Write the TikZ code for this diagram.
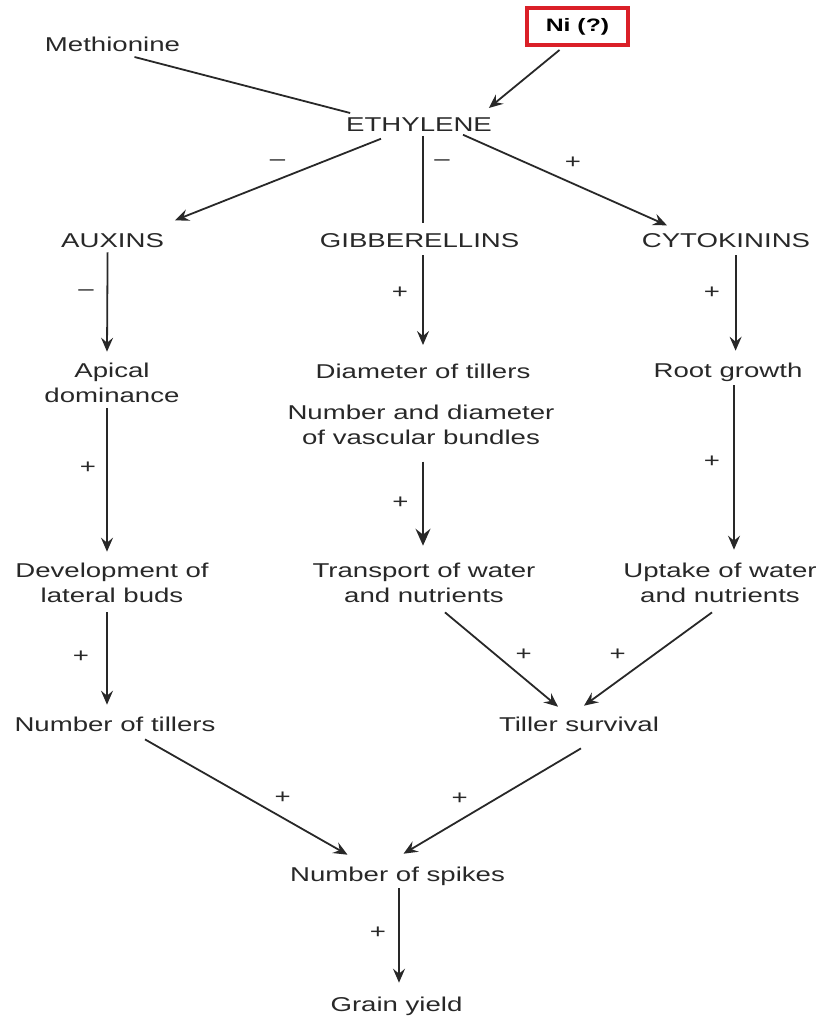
\documentclass[tikz,border=0pt]{standalone}
\usepackage{fontspec}
\setmainfont{Liberation Sans}[FakeStretch=1.38]
\usetikzlibrary{arrows.meta, calc}
\definecolor{inkgray}{RGB}{40, 40, 40}
\definecolor{boxred}{RGB}{218, 32, 40}

\begin{document}
\begin{tikzpicture}[x=0.5pt, y=-0.5pt,
  txt/.style={font=\fontsize{10}{12.5}\selectfont, text=inkgray, inner sep=0pt, outer sep=0pt, anchor=north, align=center},
  signlbl/.style={font=\fontsize{10}{12.5}\selectfont, text=inkgray, inner sep=0pt},
  link/.style={draw=inkgray, line width=0.9pt},
  arr/.style={link, -{Stealth[length=7pt, width=6pt, inset=2.5pt]}},
  bigarr/.style={link, -{Stealth[length=8.5pt, width=7.5pt, inset=3pt]}}]
  \useasboundingbox (0,0) rectangle (821,1018);

  % Top
  \node[txt] (meth) at (112.5,37.3) {Methionine};
  \node[draw=boxred, line width=2pt, minimum width=50.5pt, minimum height=18.5pt, inner sep=0pt,
        font=\fontsize{9}{11}\selectfont\bfseries] (ni) at (577.5,26.5) {Ni (?)};
  \node[txt] (eth) at (419,118) {ETHYLENE};

  % Hormones
  \node[txt] (auxins) at (112.6,233.3) {AUXINS};
  \node[txt] (gibb) at (419.6,233.3) {GIBBERELLINS};
  \node[txt] (cyto) at (726,233.3) {CYTOKININS};

  % Middle rows
  \node[txt] (apical) at (112,362.7) {Apical\\dominance};
  \node[txt] (diam) at (423,364) {Diameter of tillers};
  \node[txt] (vasc) at (421,405) {Number and diameter\\of vascular bundles};
  \node[txt] (root) at (728,362.7) {Root growth};
  \node[txt] (dev) at (112,562.7) {Development of\\lateral buds};
  \node[txt] (trans) at (424,562.7) {Transport of water\\and nutrients};
  \node[txt] (uptake) at (720,562.7) {Uptake of water\\and nutrients};

  % Bottom
  \node[txt] (tillers) at (115,716.7) {Number of tillers};
  \node[txt] (tiller) at (579,716.7) {Tiller survival};
  \node[txt] (spikes) at (397.5,866.7) {Number of spikes};
  \node[txt] (grain) at (396.5,996.7) {Grain yield};

  % Connectors
  \draw[link] ($(meth.south)+(22,5)$) -- ($(eth.north west)+(4,-5)$);
  \draw[arr] ($(ni.south)+(-18,3)$) -- ($(eth.north east)+(-3,-10)$);
  \draw[arr] ($(eth.south)+(-38,7)$) -- ($(auxins.north east)+(11,-13)$);
  \draw[link] ($(eth.south)+(4,4)$) -- ($(gibb.north)+(3.4,-10)$);
  \draw[arr] ($(eth.south)+(44,3)$) -- ($(cyto.north west)+(25,-8)$);
  \draw[arr] ($(auxins.south)+(-5,5)$) -- ($(apical.north)+(-5,-11)$);
  \draw[arr] ($(gibb.south)+(3.4,8)$) -- ($(diam.north)+(0,-19)$);
  \draw[arr] ($(cyto.south)+(9.6,8)$) -- ($(root.north)+(7.6,-12)$);
  \draw[arr] ($(apical.south)+(-5,6)$) -- ($(dev.north)+(-5,-11)$);
  \draw[bigarr] ($(vasc.south)+(2,17)$) -- ($(trans.north)+(-1,-17)$);
  \draw[arr] ($(root.south)+(6,4)$) -- ($(uptake.north)+(14,-13)$);
  \draw[arr] ($(dev.south)+(-5,10)$) -- ($(tillers.north)+(-8,-12)$);
  \draw[arr] ($(trans.south)+(21,10)$) -- ($(tiller.north)+(-21,-10)$);
  \draw[arr] ($(uptake.south)+(-8,10)$) -- ($(tiller.north)+(5,-11)$);
  \draw[arr] ($(tillers.south)+(30,8)$) -- ($(spikes.north)+(-50,-12)$);
  \draw[arr] ($(tiller.south)+(2,17)$) -- ($(spikes.north)+(6,-13)$);
  \draw[arr] ($(spikes.south)+(1.5,3)$) -- ($(grain.north)+(2.5,-14)$);

  % Signs
  \foreach \x/\y/\s [count=\i] in {277.5/163/–, 442/163/–, 573/163/+,
      86/293/–, 400/293/+, 712/293/+, 88/468/+, 400.5/503/+, 712/461.7/+,
      81/656.7/+, 523.6/655/+, 617.8/655/+, 282.7/798/+, 459.7/799/+, 378/933/+}
    \node[signlbl] (sign\i) at (\x,\y) {\s};
\end{tikzpicture}
\end{document}
